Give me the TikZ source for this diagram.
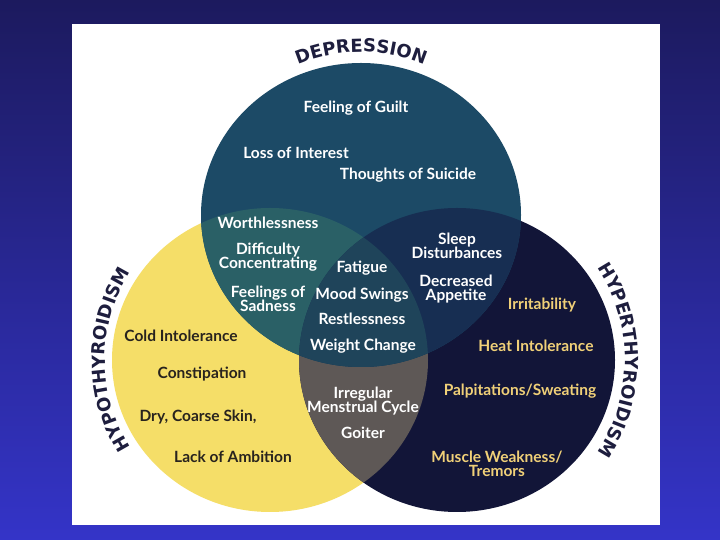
\documentclass[tikz,border=0pt]{standalone}
\usepackage{fontspec}
\setmainfont{Lato}
\newfontfamily\titlefam{DejaVu Sans}
\usepackage{tikz}
\usetikzlibrary{decorations.text}

\definecolor{bgtop}{RGB}{28,26,94}
\definecolor{bgbottom}{RGB}{52,52,200}
\definecolor{depfill}{RGB}{28,74,102}
\definecolor{hypofill}{RGB}{245,222,104}
\definecolor{hyperfill}{RGB}{18,21,56}
\definecolor{dephypo}{RGB}{42,96,102}
\definecolor{dephyper}{RGB}{23,46,82}
\definecolor{hypohyper}{RGB}{94,88,86}
\definecolor{allthree}{RGB}{31,68,90}
\definecolor{titleink}{RGB}{30,30,62}
\definecolor{hypoink}{RGB}{40,35,30}
\definecolor{hypergold}{RGB}{240,208,120}

\newcommand{\titlefont}{\titlefam\bfseries\fontsize{18}{20}\selectfont}

\tikzset{
  lbl/.style={font=\bfseries\fontsize{15.5}{14.5}\selectfont, align=center, inner sep=0pt},
  deptxt/.style={lbl, text=white},
  hypotxt/.style={lbl, text=hypoink},
  hypertxt/.style={lbl, text=hypergold},
  arctitle/.style={decorate, decoration={text along path, text align=center,
      text color=titleink, text={|\titlefont|#1}}}
}

\begin{document}
\begin{tikzpicture}[x=1pt,y=1pt]
  \shade [top color=bgtop, bottom color=bgbottom] (0,0) rectangle (720,540);
  \fill [white] (72,15) rectangle (660,516);

  \coordinate (dep) at (361,325);
  \coordinate (hypo) at (270,180);
  \coordinate (hyper) at (457,180);
  \def\depshape{(dep) ellipse [x radius=160pt, y radius=152pt]}
  \def\hyposhape{(hypo) ellipse [x radius=158pt, y radius=152pt]}
  \def\hypershape{(hyper) ellipse [x radius=158pt, y radius=152pt]}

  \fill [hypofill] \hyposhape;
  \fill [hyperfill] \hypershape;
  \fill [depfill] \depshape;
  \begin{scope}
    \clip \hyposhape;
    \fill [hypohyper] \hypershape;
    \fill [dephypo] \depshape;
  \end{scope}
  \begin{scope}
    \clip \hypershape;
    \fill [dephyper] \depshape;
  \end{scope}
  \begin{scope}
    \clip \hyposhape;
    \clip \hypershape;
    \fill [allthree] \depshape;
  \end{scope}

  \path [arctitle=DEPRESSION] (dep) ++(125:163pt) arc [start angle=125, end angle=55, radius=163pt];
  \path [arctitle=HYPOTHYROIDISM] (hypo) ++(224:165pt) arc [start angle=224, end angle=136, radius=165pt];
  \path [arctitle=HYPERTHYROIDISM] (hyper) ++(44:168pt) arc [start angle=44, end angle=-44, radius=168pt];

  \node [deptxt] (guilt) at (356,432) {Feeling of Guilt};
  \node [deptxt] (interest) at (296,387) {Loss of Interest};
  \node [deptxt] (suicide) at (408,365) {Thoughts of Suicide};
  \node [deptxt] (worth) at (268,317) {Worthlessness};
  \node [deptxt] (concentr) at (268,283) {Difficulty\\Concentrating};
  \node [deptxt] (sadness) at (268,241) {Feelings of\\Sadness};
  \node [deptxt] (fatigue) at (362,272) {Fatigue};
  \node [deptxt] (mood) at (362,245) {Mood Swings};
  \node [deptxt] (restless) at (362,221) {Restlessness};
  \node [deptxt] (weight) at (363,194) {Weight Change};
  \node [deptxt] (sleep) at (457,294) {Sleep\\Disturbances};
  \node [deptxt] (appetite) at (456,251) {Decreased\\Appetite};
  \node [deptxt] (menstrual) at (363,139) {Irregular\\Menstrual Cycle};
  \node [deptxt] (goiter) at (363,107) {Goiter};

  \node [hypotxt] (cold) at (181,204) {Cold Intolerance};
  \node [hypotxt] (constip) at (202,166) {Constipation};
  \node [hypotxt] (skin) at (198,123) {Dry, Coarse Skin,};
  \node [hypotxt] (ambition) at (233,83) {Lack of Ambition};

  \node [hypertxt] (irrit) at (542,235) {Irritability};
  \node [hypertxt] (heat) at (536,194) {Heat Intolerance};
  \node [hypertxt] (palp) at (520,149) {Palpitations/Sweating};
  \node [hypertxt] (muscle) at (497,76) {Muscle Weakness/\\Tremors};
\end{tikzpicture}
\end{document}
